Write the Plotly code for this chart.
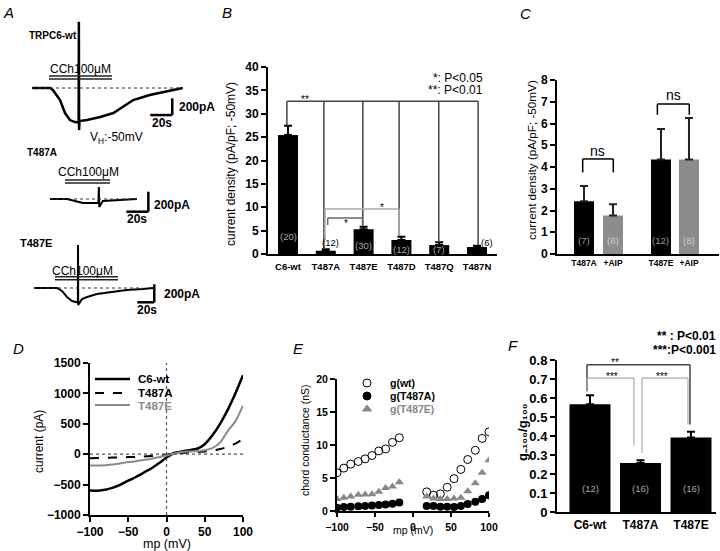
import plotly.graph_objects as go

W, H = 720, 551
FONT = "Liberation Sans"

# ---------------- DATA ----------------
# Panel A: representative whole-cell current traces (time in s, current in pA)
wt_t = [0, 16.4, 19, 25.5, 30, 34.5, 39, 41.8, 42.4, 42.6, 42.8, 43.2, 50, 62, 74, 92, 107, 123, 137]
wt_I = [0, 0, -24, -144, -300, -384, -408, -420, -414, 792, -504, -396, -384, -348, -300, -144, -84, -36, 0]
a_t = [0, 15.5, 22.7, 30, 39, 44.0, 44.4, 44.8, 48, 61, 79]
a_I = [0, 0, -20, -40, -40, -40, 120, -80, -20, -10, 0]
e_t = [0, 27, 33, 38.8, 44.7, 49.4, 51.6, 51.8, 52.0, 56.5, 62.4, 74, 89.4, 109, 128, 140]
e_I = [0, 0, -33, -100, -144, -155, -160, 477, -189, -122, -100, -67, -44, -22, -11, 0]

# Panel B: current density at -50 mV
b_cats = ["C6-wt", "T487A", "T487E", "T487D", "T487Q", "T487N"]
b_vals = [25.45, 0.7, 5.3, 3.0, 1.9, 1.5]
b_err = [2.0, 0.3, 0.55, 0.7, 0.6, 0.25]
b_n = ["(20)", "(12)", "(30)", "(12)", "(7)", "(6)"]

# Panel C: effect of AIP
c_cats = ["T487A", "+AIP", "T487E", "+AIP"]
c_vals = [2.43, 1.77, 4.35, 4.35]
c_err = [0.7, 0.52, 1.4, 1.9]
c_n = ["(7)", "(8)", "(12)", "(8)"]

# Panel D: I-V relationships
d_mv = [-100, -90, -80, -70, -60, -50, -40, -30, -20, -10, 0, 10, 20, 30, 40, 50, 60, 70, 80, 90, 100]
d_wt = [-595, -600, -585, -550, -500, -435, -375, -305, -235, -150, -55, 20, 45, 65, 90, 165, 310, 500, 730, 1000, 1300]
d_a = [-65, -62, -58, -55, -52, -48, -44, -38, -30, -20, -8, 8, 20, 28, 35, 45, 60, 85, 120, 175, 250]
d_e = [-185, -185, -180, -170, -150, -130, -115, -95, -75, -50, -20, 10, 35, 45, 50, 65, 100, 190, 380, 540, 800]

# Panel E: chord conductance
e_mv = [-100, -91, -82, -72, -63, -54, -45, -36, -27, -18, 18, 27, 36, 45, 54, 63, 72, 82, 91, 100]
g_wt = [5.8, 6.5, 7.1, 7.5, 7.9, 8.4, 9.1, 9.4, 10.4, 11.1, 2.9, 2.4, 2.6, 3.6, 4.9, 6.3, 7.8, 9.2, 11.0, 12.0]
g_a = [0.5, 0.6, 0.66, 0.71, 0.77, 0.82, 0.92, 1.0, 1.1, 1.28, 0.77, 0.77, 0.66, 0.66, 0.61, 0.77, 1.07, 1.4, 1.8, 2.4]
g_e = [1.8, 2.0, 2.2, 2.45, 2.5, 2.55, 2.9, 3.47, 3.72, 4.34, 2.2, 1.9, 1.8, 1.8, 1.9, 2.0, 3.0, 4.2, 5.8, 7.7]

# Panel F: g-100/g100
f_cats = ["C6-wt", "T487A", "T487E"]
f_vals = [0.567, 0.258, 0.392]
f_err = [0.048, 0.014, 0.03]
f_n = ["(12)", "(16)", "(16)"]

# ---------------- helpers ----------------
def xdom(a, b):
    return [a / W, b / W]

def ydom(top, bot):
    return [1 - bot / H, 1 - top / H]

def xr(p0, p1, origin, ppu):
    return [(p0 - origin) / ppu, (p1 - origin) / ppu]

def yr(ptop, pbot, origin, ppu):
    return [(origin - pbot) / ppu, (origin - ptop) / ppu]

annotations = []
shapes = []

def pann(x, y, text, size=12, color="black", bold=False, xanchor="center", angle=0, italic=False):
    if italic:
        text = "<i>" + text + "</i>"
    annotations.append(dict(x=x / W, y=1 - y / H, xref="paper", yref="paper", text=text, showarrow=False,
                            xanchor=xanchor, yanchor="middle", textangle=angle,
                            font=dict(family=FONT, size=size, color=color, weight="bold" if bold else "normal")))

def dann(ax, x, y, text, size=10, color="black", bold=False, xanchor="center"):
    annotations.append(dict(x=x, y=y, xref="x" + ax, yref="y" + ax, text=text, showarrow=False,
                            xanchor=xanchor, yanchor="middle",
                            font=dict(family=FONT, size=size, color=color, weight="bold" if bold else "normal")))

def seg(ax, x0, y0, x1, y1, color="black", width=1.5, dash="solid"):
    shapes.append(dict(type="line", xref="x" + ax, yref="y" + ax, x0=x0, y0=y0, x1=x1, y1=y1,
                       line=dict(color=color, width=width, dash=dash)))

def bracket(ax, xl, xr_, ytop, yl, yr_, color, width=1.5):
    seg(ax, xl, ytop, xr_, ytop, color, width)
    seg(ax, xl, ytop, xl, yl, color, width)
    seg(ax, xr_, ytop, xr_, yr_, color, width)

fig = go.Figure()
layout = dict(width=W, height=H, margin=dict(l=0, r=0, t=0, b=0, pad=0, autoexpand=False),
              paper_bgcolor="white", plot_bgcolor="rgba(0,0,0,0)", showlegend=False,
              font=dict(family=FONT, color="black"))

def hidden(dom, rng, anchor):
    return dict(domain=dom, range=rng, visible=False, showgrid=False, zeroline=False, fixedrange=True,
                anchor=anchor, automargin=False)

def axstyle(dom, rng, anchor, size=12, **kw):
    d = dict(domain=dom, range=rng, anchor=anchor, showgrid=False, zeroline=False, showline=True,
             linecolor="black", linewidth=2, ticks="outside", ticklen=5, tickwidth=2, tickcolor="black",
             tickfont=dict(family=FONT, size=size, color="black", weight="bold"), fixedrange=True,
             automargin=False)
    d.update(kw)
    return d

# ---------------- Panel A ----------------
A_cfg = [
    # (x-dom px, y-dom px, x origin px, px per s, baseline px, px per pA)
    ((0, 200), (10, 150), 32, 1.1, 88, 16.7 / 200),
    ((0, 200), (160, 225), 50, 1.1, 199, 20 / 200),
    ((0, 200), (235, 320), 34, 0.85, 288, 18 / 200),
]
A_traces = [(wt_t, wt_I), (a_t, a_I), (e_t, e_I)]
A_sb = [(127.5, -324), (89.4, -127), (141.5, -159)]
A_dot_end = [137, 79, 128]
for i, (cfg, tr, sb, dend) in enumerate(zip(A_cfg, A_traces, A_sb, A_dot_end)):
    n = str(i + 1) if i > 0 else ""
    (xa, xb), (yt, yb), xo, xppu, yo, yppu = cfg
    layout["xaxis" + n] = hidden(xdom(xa, xb), xr(xa, xb, xo, xppu), "y" + n)
    layout["yaxis" + n] = hidden(ydom(yt, yb), yr(yt, yb, yo, yppu), "x" + n)
    fig.add_trace(go.Scatter(x=tr[0], y=tr[1], mode="lines", xaxis="x" + n, yaxis="y" + n,
                             line=dict(color="black", width=2.5 if i == 0 else 2), hoverinfo="skip"))
    seg(n, 0, 0, dend, 0, "#333", 1, "dot")
    t0, i0 = sb
    seg(n, t0, i0, t0, i0 + 200, "black", 2.5)
    seg(n, t0 - 20, i0, t0, i0, "black", 2.5)

# CCh application bars (pixel positions)
for (x0, x1, y0) in [(49, 112, 76), (65, 110, 180), (55, 118, 276.7)]:
    for dy in (0, 3):
        shapes.append(dict(type="line", xref="paper", yref="paper", x0=x0 / W, x1=x1 / W,
                           y0=1 - (y0 + dy) / H, y1=1 - (y0 + dy) / H, line=dict(color="#222", width=1.5)))

pann(27, 35.5, "TRPC6-wt", 10, bold=True, xanchor="left")
pann(80, 69, "CCh100μM", 12)
pann(177, 107, "200pA", 12, bold=True, xanchor="left")
pann(162, 122.5, "20s", 12, bold=True)
pann(88, 138, "V<sub>H</sub>:-50mV", 12, xanchor="left")
pann(25, 152, "T487A", 10, bold=True, xanchor="left")
pann(88, 172, "CCh100μM", 12)
pann(152, 204.5, "200pA", 12, bold=True, xanchor="left")
pann(137, 219, "20s", 12, bold=True)
pann(18, 242.5, "T487E", 11, bold=True, xanchor="left")
pann(82.5, 270.5, "CCh100μM", 12)
pann(162, 294, "200pA", 12, bold=True, xanchor="left")
pann(146.7, 309.5, "20s", 12, bold=True)

# ---------------- Panel B ----------------
b_c0, b_sp = 288, 37.8
layout["xaxis4"] = axstyle(xdom(268, 497), xr(268, 497, b_c0, b_sp), "y4", size=9.5,
                           tickvals=list(range(len(b_cats))), ticktext=b_cats, ticks="", ticklabelstandoff=3)
layout["yaxis4"] = axstyle(ydom(67, 254), [0, 40], "x4", size=12, tickvals=list(range(0, 41, 5)))
fig.add_trace(go.Bar(x=list(range(len(b_cats))), y=b_vals, width=20 / b_sp, xaxis="x4", yaxis="y4",
                     marker=dict(color="black", line=dict(width=0)), hoverinfo="skip",
                     error_y=dict(type="data", symmetric=False, array=b_err, arrayminus=[0] * len(b_err),
                                  color="black", thickness=2, width=4)))
b_n_pos = [(0, 3.7, "#aaaaaa"), (1.12, 2.4, "black"), (2.0, 1.9, "#aaaaaa"), (3.0, 1.07, "#aaaaaa"),
           (4.0, 1.07, "#aaaaaa"), (5.26, 2.4, "black")]
for lab, (x, y, col) in zip(b_n, b_n_pos):
    dann("4", x, y, lab, 9.5, col)
b_leg_x = [-0.03, 0.95, 1.98, 2.94, 3.99, 5.03]
b_leg_bot = [27.6, 1.2, 6.1, 3.9, 2.8, 1.9]
seg("4", b_leg_x[0], 32.7, b_leg_x[-1], 32.7, "#444", 1.5)
for x, yb in zip(b_leg_x, b_leg_bot):
    seg("4", x, 32.7, x, yb, "#444", 1.5)
bracket("4", 1.05, 1.97, 7.7, 6.2, 6.2, "#666", 1.5)
bracket("4", 0.98, 2.94, 9.6, 2.9, 3.9, "#aaaaaa", 1.5)
dann("4", 0.45, 33.0, "**", 10)
dann("4", 1.53, 6.6, "*", 10)
dann("4", 2.49, 9.9, "*", 10)
pann(485, 78, "*: P<0.05", 12, xanchor="right")
pann(485, 90, "**: P<0.01", 12, xanchor="right")
pann(231, 164, "current density (pA/pF; -50mV)", 12, angle=-90)

# ---------------- Panel C ----------------
c_c0, c_sp = 584, 29
c_pos = [0, 1, 2.655, 3.62]
c_col = ["black", "#8c8c8c", "black", "#8c8c8c"]
layout["xaxis5"] = axstyle(xdom(557, 719), xr(557, 719, c_c0, c_sp), "y5", size=8.5,
                           tickvals=c_pos, ticktext=c_cats, ticks="", ticklabelstandoff=0)
layout["yaxis5"] = axstyle(ydom(80, 254), [0, 8], "x5", size=12, tickvals=list(range(0, 9)))
fig.add_trace(go.Bar(x=c_pos, y=c_vals, width=20 / c_sp, xaxis="x5", yaxis="y5",
                     marker=dict(color=c_col, line=dict(width=0)), hoverinfo="skip",
                     error_y=dict(type="data", symmetric=False, array=c_err, arrayminus=[0] * len(c_err),
                                  color="#222", thickness=2, width=4)))
for lab, x, col in zip(c_n, c_pos, ["#999", "#ccc", "#999", "#ccc"]):
    dann("5", x, 0.64, lab, 9.5, col)
bracket("5", -0.045, 1.01, 4.37, 3.75, 3.75, "black", 1.5)
bracket("5", 2.53, 3.63, 6.9, 6.4, 6.4, "black", 1.5)
dann("5", 0.48, 4.75, "ns", 14)
dann("5", 3.08, 7.3, "ns", 14)
pann(532, 160, "current density (pA/pF; -50mV)", 11.7, angle=-90)

# ---------------- Panel D ----------------
layout["xaxis6"] = axstyle(xdom(90, 243), [-100, 100], "y6", size=12, tickvals=[-100, -50, 0, 50, 100])
layout["yaxis6"] = axstyle(ydom(363, 515), [-1000, 1500], "x6", size=12,
                           tickvals=[-1000, -500, 0, 500, 1000, 1500])
seg("6", 0, -1000, 0, 1500, "#555", 1.2, "dot")
seg("6", -100, 0, 100, 0, "#555", 1.2, "dot")
for ys, col, dash, wd in [(d_wt, "black", "solid", 2.5), (d_a, "black", "dash", 2), (d_e, "#8a8a8a", "solid", 2)]:
    fig.add_trace(go.Scatter(x=d_mv, y=ys, mode="lines", xaxis="x6", yaxis="y6", hoverinfo="skip",
                             line=dict(color=col, width=wd, dash=dash, shape="spline", smoothing=0.6)))
pann(39, 442, "current (pA)", 12, angle=-90)
pann(167, 544, "mp (mV)", 12.5)

# ---------------- Panel E ----------------
layout["xaxis7"] = axstyle(xdom(337, 489), [-100, 100], "y7", size=10.5, tickvals=[-100, -50, 0, 50, 100],
                           ticklen=4, ticklabelstandoff=1)
layout["yaxis7"] = axstyle(ydom(379, 511), [0, 20], "x7", size=10.5, tickvals=[0, 5, 10, 15, 20])
fig.add_trace(go.Scatter(x=e_mv, y=g_wt, mode="markers", xaxis="x7", yaxis="y7", hoverinfo="skip",
                         marker=dict(symbol="circle-open", size=8, color="black", line=dict(width=1))))
fig.add_trace(go.Scatter(x=e_mv, y=g_a, mode="markers", xaxis="x7", yaxis="y7", hoverinfo="skip",
                         marker=dict(symbol="circle", size=8, color="black")))
fig.add_trace(go.Scatter(x=e_mv, y=g_e, mode="markers", xaxis="x7", yaxis="y7", hoverinfo="skip",
                         marker=dict(symbol="triangle-up", size=8, color="#888888")))
pann(305, 441, "chord conductance (nS)", 10.5, angle=-90)
pann(413, 530, "mp (mV)", 10.5)

# ---------------- Panel F ----------------
f_c0, f_sp = 590, 50.5
layout["xaxis8"] = axstyle(xdom(557, 716), xr(557, 716, f_c0, f_sp), "y8", size=12,
                           tickvals=list(range(3)), ticktext=f_cats, ticks="", ticklabelstandoff=1)
layout["yaxis8"] = axstyle(ydom(360, 512), [0, 0.8], "x8", size=13,
                           tickvals=[0, 0.1, 0.2, 0.3, 0.4, 0.5, 0.6, 0.7, 0.8],
                           ticktext=["0", "0.1", "0.2", "0.3", "0.4", "0.5", "0.6", "0.7", "0.8"])
fig.add_trace(go.Bar(x=list(range(3)), y=f_vals, width=41 / f_sp, xaxis="x8", yaxis="y8",
                     marker=dict(color="black", line=dict(width=0)), hoverinfo="skip",
                     error_y=dict(type="data", symmetric=False, array=f_err, arrayminus=[0] * 3,
                                  color="black", thickness=2, width=4)))
for lab, x in zip(f_n, range(3)):
    dann("8", x, 0.125, lab, 9.5, "#aaaaaa")
bracket("8", -0.06, 1.98, 0.775, 0.635, 0.46, "#444", 1.5)
bracket("8", -0.06, 0.87, 0.705, 0.635, 0.35, "#aaaaaa", 1.2)
bracket("8", 1.03, 1.94, 0.705, 0.31, 0.46, "#aaaaaa", 1.2)
dann("8", 0.5, 0.785, "**", 10)
dann("8", 0.44, 0.713, "***", 10)
dann("8", 1.43, 0.713, "***", 10)
pann(718, 336, "** : P<0.01", 12, bold=True, xanchor="right")
pann(718, 350, "***:P<0.001", 12, bold=True, xanchor="right")
pann(522, 432, "g₋₁₀₀/g₁₀₀", 13, bold=True, angle=-90)

# ---------------- overlay (pixel space) for legends ----------------
layout["xaxis9"] = hidden([0, 1], [0, W], "y9")
layout["yaxis9"] = hidden([0, 1], [H, 0], "x9")
leg_x = [95, 130]
for yv, col, dash, wd in [(379, "black", "solid", 2.5), (393, "black", "dash", 2), (405, "#8a8a8a", "solid", 2)]:
    fig.add_trace(go.Scatter(x=leg_x, y=[yv, yv], mode="lines", xaxis="x9", yaxis="y9", hoverinfo="skip",
                             line=dict(color=col, width=wd, dash=dash)))
pann(136, 379, "C6-wt", 11.5, bold=True, xanchor="left")
pann(136, 392.5, "T487A", 11.5, bold=True, xanchor="left")
pann(136, 405.5, "T487E", 11.5, color="#8a8a8a", bold=True, xanchor="left")
for yv, sym, col in [(383, "circle-open", "black"), (396, "circle", "black"), (409, "triangle-up", "#888888")]:
    fig.add_trace(go.Scatter(x=[367], y=[yv], mode="markers", xaxis="x9", yaxis="y9", hoverinfo="skip",
                             marker=dict(symbol=sym, size=8, color=col, line=dict(width=1, color=col))))
pann(388, 383, "g(wt)", 10.5, bold=True, xanchor="left")
pann(388, 396, "g(T487A)", 10.5, bold=True, xanchor="left")
pann(388, 409, "g(T487E)", 10.5, color="#888888", bold=True, xanchor="left")

# panel letters
for (x, y, L) in [(8, 12, "A"), (227, 12, "B"), (525, 13, "C"), (18, 348, "D"), (298, 348, "E"), (513, 345, "F")]:
    pann(x, y, L, 15, italic=True)

layout["annotations"] = annotations
layout["shapes"] = shapes
fig.update_layout(**layout)
fig.write_html("out.html", config={"displayModeBar": False},
               post_script="document.body.style.margin='0px';document.body.style.overflow='hidden';")
